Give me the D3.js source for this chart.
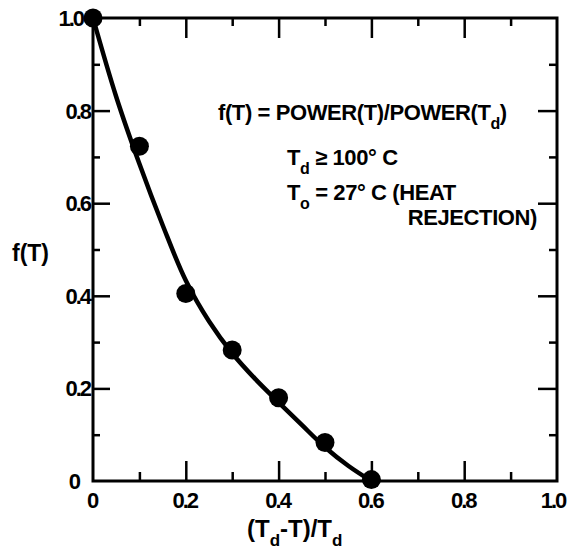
<!DOCTYPE html>
<html>
<head>
<meta charset="utf-8">
<script src="https://cdn.jsdelivr.net/npm/d3@7"></script>
<style>
  body { margin: 0; background: #fff; }
  svg text { font-family: "Liberation Sans", Arial, sans-serif; font-weight: bold; fill: #000; }
  .axis path { display: none; }
  .axis line { stroke: #000; stroke-width: 2.5; }
</style>
</head>
<body>
<div id="chart"></div>
<script>
// measured points
const ratioValues = [0, 0.1, 0.2, 0.3, 0.4, 0.5, 0.6];
const fValues = [1.0, 0.723, 0.405, 0.283, 0.18, 0.083, 0.003];

// drawn fitted curve
const curveRatio = [0, 0.05, 0.1, 0.15, 0.2, 0.25, 0.3, 0.35, 0.4, 0.45, 0.5, 0.55, 0.6];
const curveF = [1.0, 0.83, 0.685, 0.553, 0.433, 0.345, 0.276, 0.22, 0.17, 0.121, 0.073, 0.033, 0];

const majorTicks = [0, 0.2, 0.4, 0.6, 0.8, 1.0];
const minorTicks = [0.1, 0.3, 0.5, 0.7, 0.9];
const tickLabels = ["0", "0.2", "0.4", "0.6", "0.8", "1.0"];

const chartWidth = 567, chartHeight = 550;
const margin = { top: 18, right: 10, bottom: 69, left: 93 };
const width = chartWidth - margin.left - margin.right;
const height = chartHeight - margin.top - margin.bottom;

const $svg = d3.select("#chart").append("svg")
  .attr("width", chartWidth)
  .attr("height", chartHeight);

const $g = $svg.append("g")
  .attr("transform", "translate(" + margin.left + "," + margin.top + ")");

const xScale = d3.scaleLinear().domain([0, 1]).range([0, width]);
const yScale = d3.scaleLinear().domain([0, 1]).range([height, 0]);

const labelOf = function (d) { return tickLabels[majorTicks.indexOf(d)]; };

// bottom axis, ticks point inward
$g.append("g").attr("class", "axis")
  .attr("transform", "translate(0," + height + ")")
  .call(d3.axisBottom(xScale).tickValues(majorTicks.slice(1, 5)).tickSize(-20).tickFormat(""));
$g.append("g").attr("class", "axis")
  .attr("transform", "translate(0," + height + ")")
  .call(d3.axisBottom(xScale).tickValues(minorTicks).tickSize(-9).tickFormat(""));
// bottom labels
$g.append("g").selectAll("text")
  .data(majorTicks)
  .enter().append("text")
  .attr("x", function (d) { return xScale(d) + (d === 1 ? -4 : -1); })
  .attr("y", height + 27)
  .attr("text-anchor", "middle")
  .attr("font-size", 22)
  .attr("letter-spacing", -2)
  .text(labelOf);

// top axis
$g.append("g").attr("class", "axis")
  .call(d3.axisTop(xScale).tickValues(majorTicks.slice(1, 5)).tickSize(-20).tickFormat(""));
$g.append("g").attr("class", "axis")
  .call(d3.axisTop(xScale).tickValues(minorTicks).tickSize(-8).tickFormat(""));

// left axis
$g.append("g").attr("class", "axis")
  .call(d3.axisLeft(yScale).tickValues(majorTicks.slice(1, 5)).tickSize(-17).tickFormat(""));
$g.append("g").attr("class", "axis")
  .call(d3.axisLeft(yScale).tickValues(minorTicks).tickSize(-7).tickFormat(""));
$g.append("g").selectAll("text")
  .data(majorTicks)
  .enter().append("text")
  .attr("x", function (d) { return d === 1 ? -10 : (d === 0 ? -14 : -3); })
  .attr("y", function (d) { return yScale(d); })
  .attr("dy", "0.36em")
  .attr("text-anchor", "end")
  .attr("font-size", 22)
  .attr("letter-spacing", -2)
  .text(labelOf);

// right axis
$g.append("g").attr("class", "axis")
  .attr("transform", "translate(" + width + ",0)")
  .call(d3.axisRight(yScale).tickValues(majorTicks.slice(1, 5)).tickSize(-19).tickFormat(""));
$g.append("g").attr("class", "axis")
  .attr("transform", "translate(" + width + ",0)")
  .call(d3.axisRight(yScale).tickValues(minorTicks).tickSize(-8).tickFormat(""));

// frame
$g.append("rect")
  .attr("x", 0).attr("y", 0)
  .attr("width", width).attr("height", height)
  .attr("fill", "none")
  .attr("stroke", "#000")
  .attr("stroke-width", 3);

// fitted curve
const lineGenerator = d3.line()
  .x(function (d, i) { return xScale(curveRatio[i]); })
  .y(function (d) { return yScale(d); })
  .curve(d3.curveCatmullRom);

$g.append("path")
  .datum(curveF)
  .attr("fill", "none")
  .attr("stroke", "#000")
  .attr("stroke-width", 4.5)
  .attr("stroke-linejoin", "round")
  .attr("d", lineGenerator);

// data points
$g.selectAll(".dot")
  .data(fValues)
  .enter().append("circle")
  .attr("class", "dot")
  .attr("cx", function (d, i) { return xScale(ratioValues[i]); })
  .attr("cy", function (d) { return yScale(d); })
  .attr("r", 9.5)
  .attr("fill", "#000");

// axis titles
$svg.append("text")
  .attr("x", 12).attr("y", 261)
  .attr("font-size", 23)
  .text("f(T)");

const $xTitle = $svg.append("text")
  .attr("x", 247).attr("y", 537)
  .attr("font-size", 24);
$xTitle.append("tspan").text("(T");
$xTitle.append("tspan").attr("dy", 9).attr("font-size", 17).text("d");
$xTitle.append("tspan").attr("dy", -9).text("-T)/T");
$xTitle.append("tspan").attr("dy", 9).attr("font-size", 17).text("d");

// annotation
const $note1 = $svg.append("text")
  .attr("x", 218).attr("y", 120)
  .attr("font-size", 22)
  .attr("letter-spacing", -0.4);
$note1.append("tspan").text("f(T) = POWER(T)/POWER(T");
$note1.append("tspan").attr("dy", 9).attr("font-size", 16).text("d");
$note1.append("tspan").attr("dy", -9).text(")");

const $note2 = $svg.append("text")
  .attr("x", 287).attr("y", 165)
  .attr("font-size", 22)
  .attr("letter-spacing", -0.4);
$note2.append("tspan").text("T");
$note2.append("tspan").attr("dy", 9).attr("font-size", 16).text("d");
$note2.append("tspan").attr("dy", -9).text(" \u2265 100\u00b0 C");

const $note3 = $svg.append("text")
  .attr("x", 287).attr("y", 200)
  .attr("font-size", 22)
  .attr("letter-spacing", -0.4);
$note3.append("tspan").text("T");
$note3.append("tspan").attr("dy", 9).attr("font-size", 16).text("o");
$note3.append("tspan").attr("dy", -9).text(" = 27\u00b0 C (HEAT");

$svg.append("text")
  .attr("x", 537).attr("y", 225)
  .attr("text-anchor", "end")
  .attr("font-size", 22)
  .attr("letter-spacing", -0.4)
  .text("REJECTION)");
</script>
</body>
</html>
